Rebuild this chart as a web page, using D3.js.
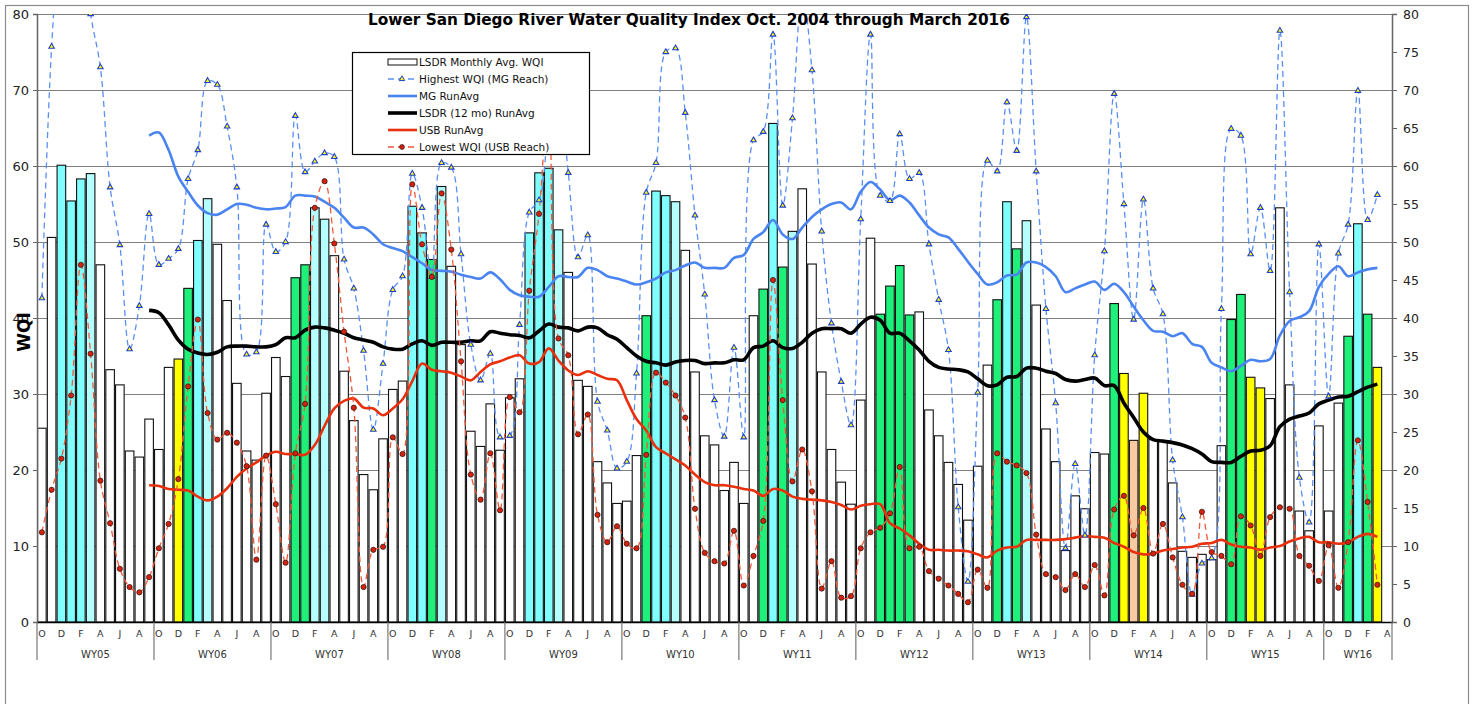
<!DOCTYPE html>
<html>
<head>
<meta charset="utf-8">
<script src="https://cdn.jsdelivr.net/npm/d3@7"></script>
<style>
  body { margin: 0; background: #fff; }
  svg text { font-family: "DejaVu Sans", Verdana, sans-serif; }
</style>
</head>
<body>
<script>
// ---- data: Oct 2004 .. Mar 2016, one value per month ----
var waterYears = ["WY05","WY06","WY07","WY08","WY09","WY10","WY11","WY12","WY13","WY14","WY15","WY16"];
var monthLetters = ["O","N","D","J","F","M","A","M","J","J","A","S"];

var monthlyAvg = [
  25.5,50.6,60.1,55.4,58.3,59.0,47.0,33.2,31.2,22.5,21.7,26.7,
  22.7,33.5,34.6,43.9,50.2,55.7,49.7,42.3,31.4,22.5,21.3,30.1,
  34.8,32.3,45.3,47.0,54.5,53.0,48.2,33.0,26.5,19.4,17.4,24.1,
  30.6,31.7,54.7,51.2,47.7,57.3,46.8,36.5,25.1,23.1,28.7,22.6,
  29.5,32.0,51.2,59.1,59.7,51.6,46.0,31.8,31.0,21.1,18.3,15.6,
  15.9,21.9,40.3,56.7,56.1,55.3,48.9,32.9,24.5,23.3,17.3,21.0,
  15.6,40.3,43.8,65.6,46.7,51.4,57.0,47.1,32.9,22.7,18.4,15.5,
  29.2,50.5,40.5,44.2,46.9,40.4,40.8,27.9,24.5,21.0,18.1,13.4,
  20.5,33.8,42.4,55.3,49.1,52.8,41.7,25.4,21.1,9.4,16.6,14.9,
  22.3,22.1,41.9,32.7,23.9,30.1,24.0,23.8,18.3,9.3,8.5,8.9,
  8.2,23.2,39.8,43.1,32.2,30.8,29.4,54.5,31.2,14.6,12.0,25.8,
  14.6,28.8,37.6,52.4,40.5,33.5
];

// bar class per month: w white, c cyan, l light cyan, g green, y yellow, p peach
var barClass = (
  "wwccclwwwwww" + "wwygclwwwwww" + "wwggllwwwwww" + "wwccglwwwwww" +
  "wwccclwwwwww" + "wwgcclwwwwww" + "wwgcglwwwwww" + "wwggggwwwwww" +
  "wwgcglwwwwww" + "wwgypywwwwww" + "wwggyywwwwww" + "wwgcgy"
).split("");

var highestMG = [
  42.6,75.7,92,98,92,80.0,73.0,57.2,49.6,35.9,41.6,53.7,
  47.0,47.8,49.1,58.3,62.1,71.2,70.7,65.2,57.2,35.2,35.5,52.3,
  48.7,50.0,66.6,59.2,60.6,61.7,61.2,47.7,43.9,35.7,25.3,34.0,
  43.7,45.5,59.0,54.5,45.4,60.4,59.8,48.4,36.5,31.8,35.3,24.3,
  24.5,39.1,53.9,55.5,65,70,59.1,48.0,50.9,29.0,25.2,20.2,
  21.1,32.7,56.5,60.4,75.0,75.5,67.0,53.5,43.1,29.2,24.4,36.1,
  24.3,63.4,64.5,77.3,54.8,66.3,83,72.6,51.4,39.3,31.6,25.9,
  53.0,77.3,56.1,55.4,64.2,58.3,59.1,49.7,42.4,35.8,15.1,5.3,
  30.2,60.7,59.3,68.4,62.0,79.6,59.3,41.2,28.8,9.7,20.8,11.4,
  35.1,48.8,69.5,55.0,39.8,55.6,43.9,40.5,21.3,13.8,3.6,7.7,
  8.4,41.2,64.9,64.0,48.4,54.5,46.2,77.8,43.4,19.0,13.1,49.7,
  29.7,48.5,52.3,69.9,52.9,56.2
];

var lowestUSB = [
  11.8,17.4,21.5,29.8,47.0,35.3,18.6,13.0,7.0,4.6,3.9,5.9,
  9.7,12.9,18.8,31.0,39.8,27.5,24.0,24.9,23.6,20.5,8.2,21.9,
  15.5,7.8,22.2,28.7,54.5,58.0,49.8,38.2,28.2,4.6,9.5,9.9,
  24.3,22.1,57.6,49.7,45.4,56.4,49.0,34.3,19.4,16.1,22.2,14.7,
  29.6,27.6,43.6,53.7,70,37.3,35.1,24.7,27.3,14.1,10.5,12.6,
  10.3,9.7,22.0,32.8,31.5,29.8,26.9,14.9,9.1,8.0,7.7,12.0,
  4.8,8.7,13.3,45.0,29.2,18.5,22.7,17.2,4.4,8.0,3.2,3.4,
  9.7,11.8,12.4,14.3,20.4,9.7,9.9,6.7,5.7,4.8,3.7,2.6,
  6.9,4.5,22.2,21.1,20.6,19.6,11.5,6.3,5.9,4.2,6.3,4.6,
  7.5,3.5,14.8,16.6,11.4,15.0,9.0,12.9,8.5,4.9,3.7,14.5,
  9.2,8.7,7.6,13.9,12.7,8.7,13.8,15.1,14.9,8.7,7.4,5.4,
  10.1,4.5,10.5,23.9,15.8,4.9
];

// 12-month running averages start in Sept 2005 (index 11)
var mgRunAvg = [
  null,null,null,null,null,null,null,null,null,null,null,64.0,
  64.4,62.1,58.6,56.6,54.8,53.8,53.6,54.3,55.0,54.9,54.5,54.3,
  54.4,54.6,56.1,56.1,56.0,55.3,54.5,53.2,51.9,51.9,51.0,49.7,
  49.2,48.8,48.0,47.2,46.3,46.2,46.1,45.7,45.4,45.2,46.0,45.1,
  43.7,43.0,42.8,42.8,44.1,45.5,45.4,45.4,46.6,46.3,45.5,45.2,
  44.8,44.4,44.7,45.2,46.0,46.3,46.9,47.3,46.6,46.6,46.6,47.9,
  48.3,50.4,51.3,52.9,51.0,50.4,51.9,53.3,54.3,55.0,55.2,54.3,
  56.6,57.9,56.9,55.5,56.1,55.2,53.5,51.9,51.0,50.6,49.1,47.4,
  45.8,44.4,44.7,45.6,45.7,47.3,47.3,46.7,45.5,43.4,43.9,44.4,
  44.8,43.7,44.5,43.4,41.5,39.7,38.3,38.2,37.6,38.0,36.6,36.2,
  34.1,33.5,33.0,33.7,34.5,34.3,34.6,37.7,39.6,40.1,40.9,44.1,
  45.8,46.8,45.5,46.0,46.4,46.6
];

var lsdrRunAvg = [
  null,null,null,null,null,null,null,null,null,null,null,41.0,
  40.7,39.1,37.1,35.9,35.4,35.2,35.5,36.2,36.3,36.3,36.2,36.2,
  36.5,37.4,37.4,38.4,38.8,38.7,38.4,38.0,37.4,37.1,36.8,36.2,
  35.9,35.9,36.6,37.0,36.4,36.8,36.8,36.8,37.0,37.0,38.2,38.0,
  37.8,37.7,37.4,38.3,39.2,38.8,38.7,38.3,38.8,38.7,37.8,37.2,
  36.1,35.0,34.3,34.1,33.8,34.2,34.4,34.4,34.0,34.1,34.1,34.5,
  34.5,36.1,36.3,37.0,36.1,36.0,36.8,38.0,38.6,38.6,38.6,38.0,
  39.2,40.1,39.7,38.0,38.0,37.0,35.8,34.3,33.5,33.3,33.2,32.9,
  32.0,31.1,31.2,32.2,32.3,33.4,33.4,33.0,32.7,31.9,31.7,31.9,
  32.1,31.1,31.1,28.8,26.9,25.0,24.0,23.8,23.6,23.3,22.8,22.1,
  21.1,21.0,21.0,21.8,22.5,22.6,23.2,25.7,26.7,27.1,27.5,28.7,
  29.2,29.6,29.7,30.3,30.9,31.3
];

var usbRunAvg = [
  null,null,null,null,null,null,null,null,null,null,null,18.0,
  17.9,17.5,17.4,17.3,16.5,16.0,16.5,17.6,19.1,20.2,21.0,21.9,
  22.4,22.1,22.1,22.0,23.3,25.8,28.1,29.1,29.4,28.2,28.1,27.2,
  28.1,29.3,31.7,34.0,33.2,33.0,32.8,32.3,31.8,32.9,33.9,34.3,
  34.8,35.1,34.0,34.2,36.0,34.4,33.1,32.5,33.0,32.5,32.0,31.8,
  29.2,26.7,25.2,23.0,22.2,21.4,20.6,19.4,18.4,18.0,18.0,17.8,
  17.5,17.3,16.6,17.5,17.3,16.5,16.2,16.1,16.0,15.8,15.4,14.8,
  15.3,15.5,15.5,13.0,12.3,11.4,10.3,9.5,9.5,9.4,9.4,9.3,
  8.9,8.5,9.4,9.8,9.9,10.8,10.8,10.8,10.8,10.9,11.1,11.3,
  11.2,11.1,10.4,9.9,9.2,8.9,9.0,9.4,9.6,9.8,9.9,10.3,
  10.4,10.8,10.2,9.9,9.8,9.5,9.8,10.0,10.6,11.0,11.2,10.5,
  10.5,10.3,10.5,11.2,11.6,11.2
];

var legendLabels = ["LSDR Monthly Avg. WQI","Highest WQI (MG Reach)","MG RunAvg",
                    "LSDR (12 mo) RunAvg","USB RunAvg","Lowest WQI (USB Reach)"];

// ---- chart ----
var W = 1478, H = 704,
    pL = 37, pR = 1392, pT = 14, pB = 622,
    nCats = 139; // through April 2016 (empty)

var barFill = d3.scaleOrdinal()
  .domain(["w","c","l","g","y","p"])
  .range(["#ffffff","#80ffff","#b6ffff","#1ef07a","#ffff00","#f9c9a1"]);

var svg = d3.select("body").append("svg").attr("width", W).attr("height", H);

svg.append("rect").attr("width", W).attr("height", H).attr("fill", "#fff");
svg.append("rect")
  .attr("x", 5.5).attr("y", 5.5).attr("width", 1463).attr("height", 740)
  .attr("fill", "none").attr("stroke", "#8c8c8c").attr("stroke-width", 1.2);

var x = d3.scaleBand().domain(d3.range(nCats)).range([pL, pR])
  .paddingInner(0.12).paddingOuter(0.06);
var y = d3.scaleLinear().domain([0, 80]).range([pB, pT]);
var cx = function(i){ return x(i) + x.bandwidth() / 2; };

// gridlines
svg.append("g")
  .attr("transform", "translate(" + pL + ",0)")
  .call(d3.axisLeft(y).tickValues(d3.range(10, 81, 10)).tickSize(-(pR - pL)).tickFormat(""))
  .call(function(g){
    g.select(".domain").remove();
    g.selectAll("line").attr("stroke", "#7f7f7f").attr("stroke-width", 1);
  });

// bars
svg.append("g").selectAll("rect")
  .data(monthlyAvg)
  .enter()
  .append("rect")
  .attr("x", function(d, i){ return x(i); })
  .attr("y", function(d){ return y(d); })
  .attr("width", x.bandwidth())
  .attr("height", function(d){ return pB - y(d); })
  .attr("fill", function(d, i){ return barFill(barClass[i]); })
  .attr("stroke", "#111")
  .attr("stroke-width", 1.1);

// lines (clipped to plot)
svg.append("clipPath").attr("id", "plotclip")
  .append("rect").attr("x", pL).attr("y", pT).attr("width", pR - pL).attr("height", pB - pT);

var plot = svg.append("g").attr("clip-path", "url(#plotclip)");

function lineGen(){
  return d3.line()
    .defined(function(d){ return d != null; })
    .x(function(d, i){ return cx(i); })
    .y(function(d){ return y(d); })
    .curve(d3.curveCatmullRom.alpha(0.5));
}

plot.append("path").datum(highestMG).attr("d", lineGen())
  .attr("fill", "none").attr("stroke", "#5a8ff2").attr("stroke-width", 1.3)
  .attr("stroke-dasharray", "6,4");
plot.append("path").datum(mgRunAvg).attr("d", lineGen())
  .attr("fill", "none").attr("stroke", "#4a84f0").attr("stroke-width", 2.6);
plot.append("path").datum(lsdrRunAvg).attr("d", lineGen())
  .attr("fill", "none").attr("stroke", "#000").attr("stroke-width", 3.6);
plot.append("path").datum(usbRunAvg).attr("d", lineGen())
  .attr("fill", "none").attr("stroke", "#e8300c").attr("stroke-width", 2.6);
plot.append("path").datum(lowestUSB).attr("d", lineGen())
  .attr("fill", "none").attr("stroke", "#f0583a").attr("stroke-width", 1.3)
  .attr("stroke-dasharray", "6,4");

var tri = d3.symbol().type(d3.symbolTriangle).size(13);
plot.append("g").selectAll("path")
  .data(highestMG)
  .enter()
  .append("path")
  .attr("d", tri)
  .attr("transform", function(d, i){ return "translate(" + cx(i) + "," + y(d) + ")"; })
  .attr("fill", "#ffff00").attr("stroke", "#1f3fd0").attr("stroke-width", 1.1);

plot.append("g").selectAll("circle")
  .data(lowestUSB)
  .enter()
  .append("circle")
  .attr("cx", function(d, i){ return cx(i); })
  .attr("cy", function(d){ return y(d); })
  .attr("r", 2.6)
  .attr("fill", "#d8200e").attr("stroke", "#3a1a10").attr("stroke-width", 0.8);

// axes
var yLeft = svg.append("g")
  .attr("transform", "translate(" + pL + ",0)")
  .call(d3.axisLeft(y).tickValues(d3.range(0, 81, 10)).tickSize(4).tickPadding(4));
yLeft.selectAll("text").attr("font-size", 13).attr("fill", "#222");

var yRight = svg.append("g")
  .attr("transform", "translate(" + pR + ",0)")
  .call(d3.axisRight(y).tickValues(d3.range(0, 81, 5)).tickSize(5).tickPadding(6));
yRight.selectAll("text").attr("font-size", 12.5).attr("fill", "#222");

[yLeft, yRight].forEach(function(g){
  g.select(".domain").attr("stroke", "#666").attr("stroke-width", 1.5);
  g.selectAll(".tick line").attr("stroke", "#666");
});

var xAxis = svg.append("g")
  .attr("transform", "translate(0," + pB + ")")
  .call(d3.axisBottom(x)
    .tickValues(d3.range(0, nCats, 2))
    .tickSize(0).tickPadding(8)
    .tickFormat(function(i){ return monthLetters[i % 12]; }));
xAxis.select(".domain").attr("stroke", "#000").attr("stroke-width", 1.3);
xAxis.selectAll("text").attr("font-size", 9.5).attr("fill", "#333");

// water year groups
var step = x.step();
var yearStarts = waterYears.map(function(d, k){ return k * 12; });
svg.append("g").selectAll("line")
  .data(yearStarts.concat([nCats]))
  .enter()
  .append("line")
  .attr("x1", function(s){ return pL + s * step; })
  .attr("x2", function(s){ return pL + s * step; })
  .attr("y1", pB).attr("y2", 660)
  .attr("stroke", "#777").attr("stroke-width", 1.2);

svg.append("g").selectAll("text")
  .data(waterYears)
  .enter()
  .append("text")
  .attr("x", function(d, k){
    var s = k * 12, e = Math.min(nCats, s + 12);
    return pL + (s + e) / 2 * step;
  })
  .attr("y", 658)
  .attr("text-anchor", "middle")
  .attr("font-size", 10)
  .attr("fill", "#333")
  .text(function(d){ return d; });

// titles
svg.append("text")
  .attr("x", 689).attr("y", 25)
  .attr("text-anchor", "middle")
  .attr("font-size", 15.3).attr("font-weight", "bold")
  .text("Lower San Diego River Water Quality Index Oct. 2004 through March 2016");

svg.append("text")
  .attr("transform", "translate(30,332) rotate(-90)")
  .attr("text-anchor", "middle")
  .attr("font-size", 17).attr("font-weight", "bold")
  .text("WQI");

// legend
var lg = svg.append("g").attr("transform", "translate(352,52)");
lg.append("rect").attr("x", 0.5).attr("y", 0.5).attr("width", 237).attr("height", 102)
  .attr("fill", "#fff").attr("stroke", "#000").attr("stroke-width", 1.2);

var rows = lg.selectAll("g.row")
  .data(legendLabels)
  .enter()
  .append("g")
  .attr("class", "row")
  .attr("transform", function(d, i){ return "translate(0," + (10 + i * 17) + ")"; });

rows.append("text")
  .attr("x", 67).attr("y", 4)
  .attr("font-size", 10.5).attr("fill", "#111")
  .text(function(d){ return d; });

rows.each(function(d, i){
  var r = d3.select(this);
  if (i === 0) {
    r.append("rect").attr("x", 36).attr("y", -3).attr("width", 29).attr("height", 6)
      .attr("fill", "#fff").attr("stroke", "#111");
    return;
  }
  var styles = [null,
    {c: "#5a8ff2", w: 1.3, dash: "6,4"},
    {c: "#4a84f0", w: 2.6},
    {c: "#000", w: 3.6},
    {c: "#e8300c", w: 2.6},
    {c: "#f0583a", w: 1.3, dash: "6,4"}];
  var s = styles[i];
  r.append("line").attr("x1", 36).attr("x2", 65).attr("y1", 0).attr("y2", 0)
    .attr("stroke", s.c).attr("stroke-width", s.w)
    .attr("stroke-dasharray", s.dash || null);
  if (i === 1) {
    r.append("path").attr("d", tri).attr("transform", "translate(50,0)")
      .attr("fill", "#ffff00").attr("stroke", "#1f3fd0");
  }
  if (i === 5) {
    r.append("circle").attr("cx", 50).attr("cy", 0).attr("r", 2.4)
      .attr("fill", "#d8200e").attr("stroke", "#3a1a10").attr("stroke-width", 0.8);
  }
});
</script>
</body>
</html>
